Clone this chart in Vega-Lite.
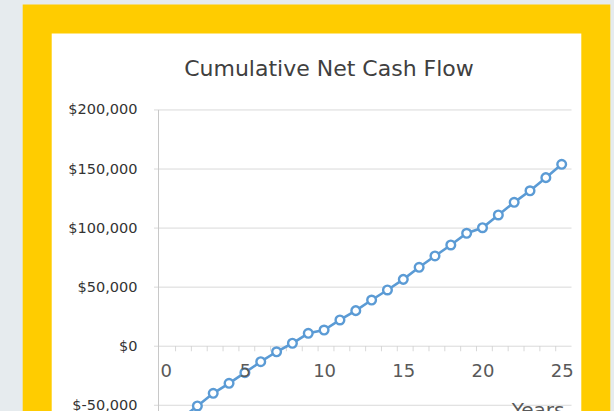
{
  "$schema": "https://vega.github.io/schema/vega-lite/v6.json",
  "width": 558.6,
  "height": 432.1,
  "autosize": {"type": "none"},
  "padding": {"left": 37.2, "top": 18.9, "right": 18.2, "bottom": -40},
  "background": "#e6ebee",
  "view": {"fill": "#ffffff", "stroke": "#ffcc00", "strokeWidth": 29},
  "title": {
    "text": "Cumulative Net Cash Flow",
    "font": "DejaVu Sans",
    "fontSize": 22,
    "fontWeight": "normal",
    "color": "#404040",
    "anchor": "middle",
    "frame": "group",
    "baseline": "alphabetic",
    "offset": -78.6,
    "dx": 12.5
  },
  "datasets": {
    "flow": [
      {"year": 1, "value": -61000},
      {"year": 2, "value": -50600},
      {"year": 3, "value": -39900},
      {"year": 4, "value": -31400},
      {"year": 5, "value": -22400},
      {"year": 6, "value": -13100},
      {"year": 7, "value": -4700},
      {"year": 8, "value": 2500},
      {"year": 9, "value": 10900},
      {"year": 10, "value": 13700},
      {"year": 11, "value": 22200},
      {"year": 12, "value": 30100},
      {"year": 13, "value": 39100},
      {"year": 14, "value": 47600},
      {"year": 15, "value": 56600},
      {"year": 16, "value": 66800},
      {"year": 17, "value": 76400},
      {"year": 18, "value": 85700},
      {"year": 19, "value": 95600},
      {"year": 20, "value": 100300},
      {"year": 21, "value": 111100},
      {"year": 22, "value": 121800},
      {"year": 23, "value": 131600},
      {"year": 24, "value": 142700},
      {"year": 25, "value": 154000}
    ],
    "grid": [
      {"g": -50000},
      {"g": 0},
      {"g": 50000},
      {"g": 100000},
      {"g": 150000},
      {"g": 200000}
    ]
  },
  "layer": [
    {
      "data": {"name": "flow"},
      "mark": {"type": "point", "shape": "circle", "filled": true, "fill": "#ffffff", "stroke": "#5b9bd5", "strokeWidth": 2.2, "size": 60, "opacity": 0},
      "encoding": {
        "x": {
          "field": "year",
          "type": "quantitative",
          "scale": {"domain": [-8.112, 27.153], "nice": false, "zero": false},
          "axis": {
            "orient": "bottom",
            "offset": -104.8,
            "zindex": 1,
            "values": [0, 5, 10, 15, 20, 25],
            "domain": false,
            "ticks": false,
            "grid": false,
            "labelFont": "DejaVu Sans",
            "labelFontSize": 18,
            "labelColor": "#595959",
            "labelPadding": 16,
            "labelFlush": false,
            "title": "Years",
            "titleFont": "DejaVu Sans",
            "titleFontSize": 20,
            "titleFontWeight": "normal",
            "titleColor": "#595959",
            "titleAlign": "right",
            "titleBaseline": "alphabetic",
            "titleX": 526.8,
            "titleY": 70.4
          }
        },
        "y": {
          "field": "value",
          "type": "quantitative",
          "scale": {"domain": [-88720, 277094], "nice": false, "zero": false},
          "axis": {
            "orient": "left",
            "offset": -103.8,
            "zindex": 1,
            "values": [-50000, 0, 50000, 100000, 150000, 200000],
            "labelExpr": "datum.value < 0 ? '$-' + format(-datum.value, ',') : '$' + format(datum.value, ',')",
            "domain": false,
            "ticks": false,
            "grid": false,
            "labelFont": "DejaVu Sans",
            "labelFontSize": 14.5,
            "labelColor": "#333333",
            "labelPadding": 4,
            "labelFlush": false,
            "title": null
          }
        }
      }
    },
    {
      "data": {"name": "grid"},
      "mark": {"type": "rule", "color": "#d9d9d9", "strokeWidth": 1},
      "encoding": {
        "x": {"datum": -0.74, "type": "quantitative", "scale": {"domain": [-8.112, 27.153], "nice": false, "zero": false}},
        "x2": {"datum": 25.62},
        "y": {"field": "g", "type": "quantitative", "scale": {"domain": [-88720, 277094], "nice": false, "zero": false}}
      }
    },
    {
      "data": {"name": "grid"},
      "transform": [{"filter": "datum.g === 0"}],
      "mark": {"type": "rule", "color": "#c8c8c8", "strokeWidth": 1},
      "encoding": {
        "x": {"datum": -0.455, "type": "quantitative", "scale": {"domain": [-8.112, 27.153], "nice": false, "zero": false}},
        "y": {"datum": -88720, "type": "quantitative", "scale": {"domain": [-88720, 277094], "nice": false, "zero": false}},
        "y2": {"datum": 200000}
      }
    },
    {
      "data": {"name": "flow"},
      "mark": {"type": "tick", "orient": "vertical", "size": 5, "thickness": 1, "color": "#c8c8c8", "xOffset": -6, "yOffset": 2.5},
      "encoding": {
        "x": {"field": "year", "type": "quantitative", "scale": {"domain": [-8.112, 27.153], "nice": false, "zero": false}},
        "y": {"datum": 0, "type": "quantitative", "scale": {"domain": [-88720, 277094], "nice": false, "zero": false}}
      }
    },
    {
      "data": {"name": "flow"},
      "mark": {"type": "line", "color": "#5b9bd5", "strokeWidth": 2.6},
      "encoding": {
        "x": {"field": "year", "type": "quantitative", "scale": {"domain": [-8.112, 27.153], "nice": false, "zero": false}},
        "y": {"field": "value", "type": "quantitative", "scale": {"domain": [-88720, 277094], "nice": false, "zero": false}}
      }
    },
    {
      "data": {"name": "flow"},
      "mark": {"type": "point", "shape": "circle", "filled": true, "fill": "#ffffff", "stroke": "#5b9bd5", "strokeWidth": 2.4, "size": 75, "opacity": 1},
      "encoding": {
        "x": {"field": "year", "type": "quantitative", "scale": {"domain": [-8.112, 27.153], "nice": false, "zero": false}},
        "y": {"field": "value", "type": "quantitative", "scale": {"domain": [-88720, 277094], "nice": false, "zero": false}}
      }
    }
  ]
}
